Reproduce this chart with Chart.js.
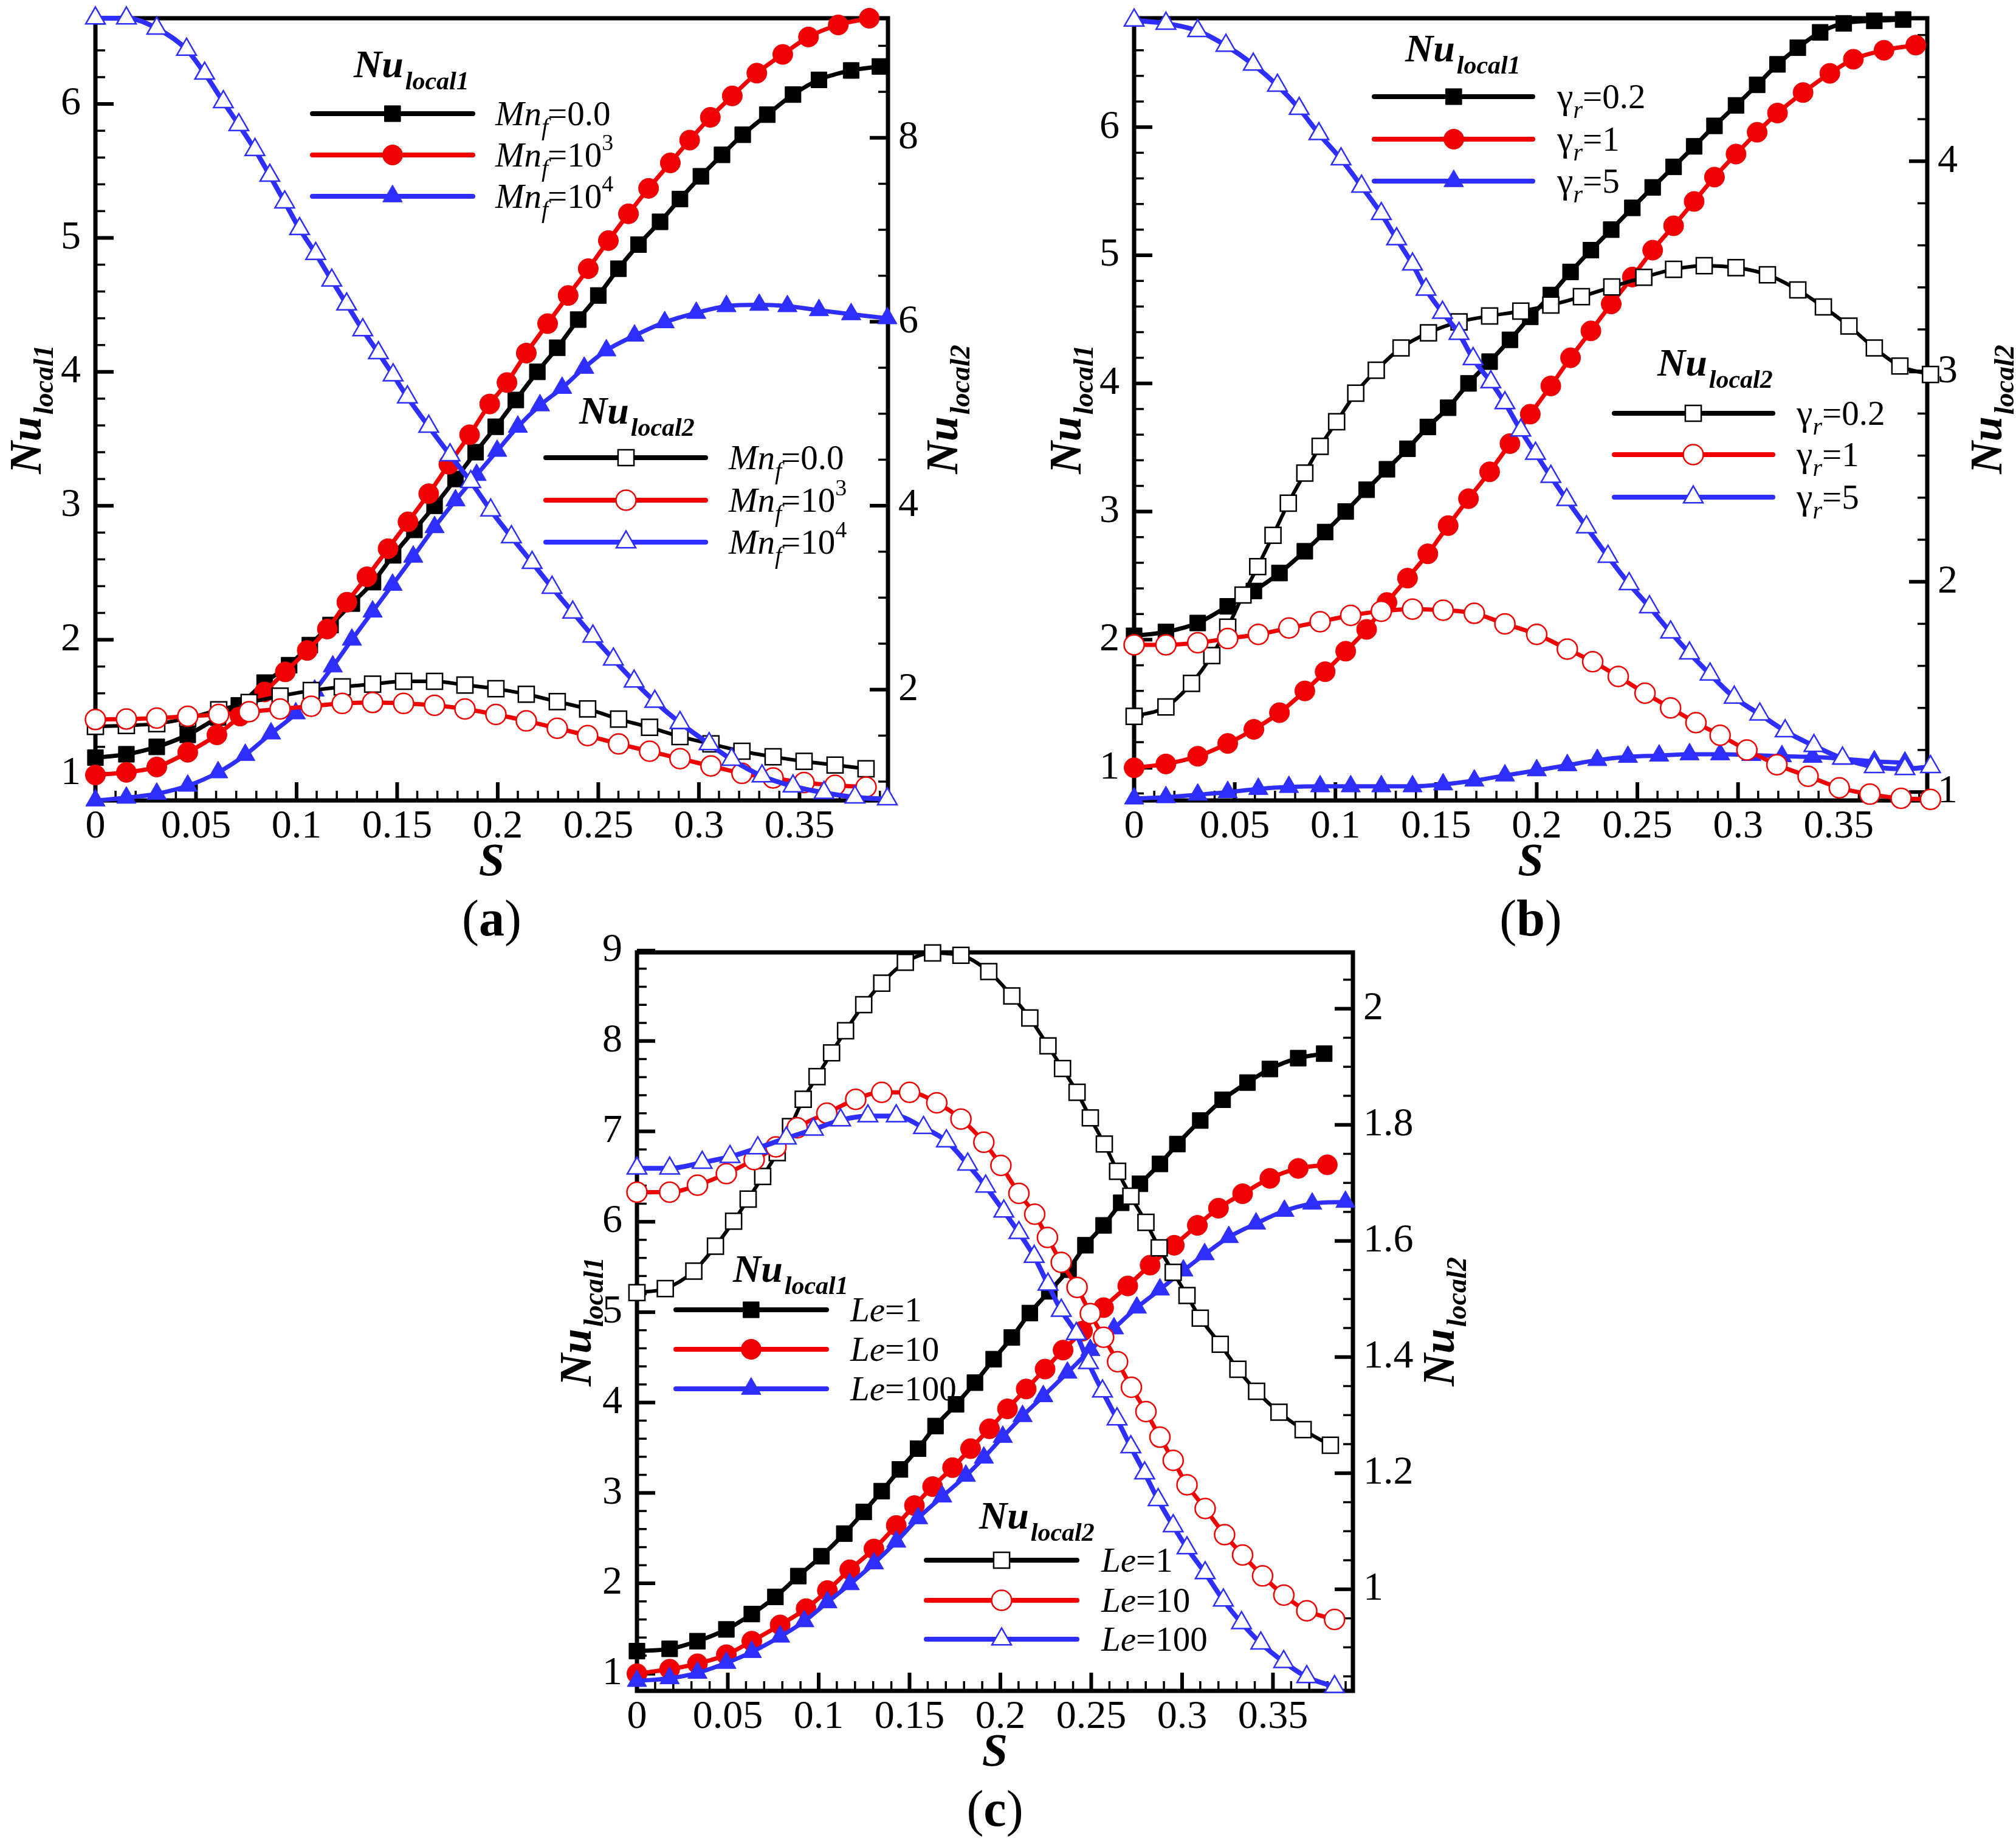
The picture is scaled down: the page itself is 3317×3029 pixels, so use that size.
<!DOCTYPE html>
<html>
<head>
<meta charset="utf-8">
<script src="https://cdn.jsdelivr.net/npm/chart.js@4.4.1/dist/chart.umd.min.js"></script>
<style>
html, body { margin: 0; padding: 0; background: #fff; width: 3317px; height: 3029px; overflow: hidden; }
canvas { position: absolute; }
</style>
</head>
<body>
<canvas id="chartA"></canvas>
<canvas id="chartB"></canvas>
<canvas id="chartC"></canvas>
<script>
// ---- tick labels ----
const sTicks = [0, 0.05, 0.1, 0.15, 0.2, 0.25, 0.3, 0.35];
const aLeftTicks = [1, 2, 3, 4, 5, 6];
const aRightTicks = [2, 4, 6, 8];
const bLeftTicks = [1, 2, 3, 4, 5, 6];
const bRightTicks = [1, 2, 3, 4];
const cLeftTicks = [1, 2, 3, 4, 5, 6, 7, 8, 9];
const cRightTicks = [1, 1.2, 1.4, 1.6, 1.8, 2];

// ---- panel (a): Mn_f ----
const a1BlackS = [0, 0.0154, 0.0305, 0.0459, 0.061, 0.0713, 0.0841, 0.0963, 0.1066, 0.1169, 0.1275, 0.138, 0.148, 0.1586, 0.1686, 0.179, 0.189, 0.199, 0.209, 0.2197, 0.2296, 0.24, 0.25, 0.26, 0.27, 0.2807, 0.2906, 0.301, 0.3115, 0.3218, 0.334, 0.3468, 0.3597, 0.3757, 0.39];
const a1BlackNu = [1.12, 1.145, 1.2, 1.29, 1.42, 1.51, 1.68, 1.81, 1.96, 2.11, 2.27, 2.43, 2.63, 2.82, 3.0, 3.2, 3.4, 3.59, 3.79, 4.0, 4.18, 4.39, 4.57, 4.77, 4.95, 5.12, 5.29, 5.46, 5.62, 5.77, 5.92, 6.07, 6.18, 6.25, 6.28];
const a1RedS = [0, 0.0154, 0.0305, 0.0459, 0.0604, 0.0719, 0.0841, 0.0944, 0.1053, 0.1153, 0.125, 0.135, 0.1455, 0.1554, 0.1657, 0.1757, 0.186, 0.196, 0.2046, 0.2142, 0.2248, 0.235, 0.245, 0.255, 0.265, 0.275, 0.2858, 0.2954, 0.3057, 0.3166, 0.3288, 0.3417, 0.3545, 0.3693, 0.3847];
const a1RedNu = [0.99, 1.01, 1.05, 1.16, 1.29, 1.43, 1.61, 1.76, 1.92, 2.08, 2.28, 2.47, 2.68, 2.88, 3.09, 3.31, 3.53, 3.76, 3.92, 4.14, 4.36, 4.57, 4.77, 4.98, 5.18, 5.37, 5.56, 5.73, 5.9, 6.06, 6.23, 6.37, 6.5, 6.59, 6.64];
const a1BlueS = [0, 0.0154, 0.0305, 0.0459, 0.061, 0.0745, 0.0873, 0.0996, 0.109, 0.118, 0.1275, 0.1378, 0.1477, 0.158, 0.1686, 0.179, 0.1895, 0.1997, 0.21, 0.221, 0.232, 0.243, 0.254, 0.268, 0.283, 0.2987, 0.3137, 0.33, 0.344, 0.3597, 0.3757, 0.3937];
const a1BlueNu = [0.8, 0.82, 0.85, 0.91, 1.01, 1.14, 1.3, 1.45, 1.62, 1.8, 2.0, 2.21, 2.41, 2.62, 2.84, 3.04, 3.23, 3.41, 3.59, 3.75, 3.88, 4.03, 4.16, 4.27, 4.37, 4.44, 4.49, 4.5, 4.49, 4.46, 4.43, 4.4];
const a2BlackS = [0, 0.0154, 0.0305, 0.0459, 0.0613, 0.0764, 0.0918, 0.1073, 0.1227, 0.1378, 0.1532, 0.1686, 0.1837, 0.1991, 0.2142, 0.2296, 0.2447, 0.2601, 0.2755, 0.2906, 0.306, 0.3214, 0.3369, 0.3523, 0.3677, 0.3831];
const a2BlackNu = [1.6, 1.61, 1.63, 1.69, 1.78, 1.86, 1.93, 1.99, 2.03, 2.06, 2.09, 2.09, 2.05, 2.01, 1.95, 1.87, 1.79, 1.68, 1.59, 1.49, 1.41, 1.33, 1.27, 1.22, 1.18, 1.14];
const a2RedS = [0, 0.0154, 0.0305, 0.0459, 0.0613, 0.0764, 0.0918, 0.1073, 0.1227, 0.1378, 0.1532, 0.1686, 0.1837, 0.1991, 0.2142, 0.2296, 0.2447, 0.2601, 0.2755, 0.2906, 0.306, 0.3214, 0.3369, 0.3523, 0.3677, 0.3831];
const a2RedNu = [1.675, 1.68, 1.69, 1.71, 1.73, 1.76, 1.79, 1.82, 1.85, 1.86, 1.85, 1.83, 1.79, 1.73, 1.66, 1.58, 1.5, 1.41, 1.33, 1.25, 1.17, 1.09, 1.04, 0.99, 0.96, 0.94];
const a2BlueS = [0, 0.0154, 0.0305, 0.0453, 0.0543, 0.0636, 0.0713, 0.0793, 0.0867, 0.0941, 0.1015, 0.1095, 0.1175, 0.1249, 0.1329, 0.1407, 0.148, 0.1551, 0.1657, 0.1763, 0.1866, 0.1965, 0.2068, 0.2171, 0.227, 0.2373, 0.2473, 0.2575, 0.2678, 0.2781, 0.2906, 0.3051, 0.3163, 0.3314, 0.3468, 0.3622, 0.3776, 0.3937];
const a2BlueNu = [9.3, 9.3, 9.19, 8.96, 8.7, 8.39, 8.14, 7.87, 7.59, 7.3, 7.01, 6.74, 6.45, 6.19, 5.91, 5.66, 5.42, 5.18, 4.86, 4.55, 4.26, 3.95, 3.66, 3.38, 3.11, 2.84, 2.58, 2.33, 2.09, 1.87, 1.64, 1.41, 1.24, 1.06, 0.95, 0.88, 0.83, 0.81];

// ---- panel (b): gamma_r ----
const b1BlackS = [0, 0.0158, 0.0316, 0.0465, 0.0595, 0.0722, 0.0848, 0.0949, 0.1051, 0.1155, 0.1256, 0.1358, 0.1459, 0.156, 0.1661, 0.1766, 0.1867, 0.1968, 0.207, 0.2168, 0.2269, 0.237, 0.2475, 0.2576, 0.268, 0.2782, 0.2883, 0.299, 0.3095, 0.3196, 0.3297, 0.3408, 0.3525, 0.3677, 0.382];
const b1BlackNu = [2.03, 2.06, 2.13, 2.26, 2.38, 2.52, 2.69, 2.84, 3.0, 3.17, 3.33, 3.49, 3.66, 3.81, 4.0, 4.17, 4.34, 4.52, 4.69, 4.87, 5.04, 5.2, 5.37, 5.53, 5.69, 5.85, 6.01, 6.17, 6.33, 6.49, 6.62, 6.74, 6.81, 6.83, 6.84];
const b1RedS = [0, 0.0158, 0.0316, 0.0465, 0.0595, 0.0722, 0.0848, 0.0949, 0.1051, 0.1155, 0.1256, 0.1358, 0.1459, 0.156, 0.1661, 0.1766, 0.1867, 0.1968, 0.207, 0.2168, 0.2269, 0.237, 0.2475, 0.2576, 0.268, 0.2782, 0.2883, 0.299, 0.3095, 0.3196, 0.3323, 0.3456, 0.3573, 0.3725, 0.3883];
const b1RedNu = [1.0, 1.03, 1.09, 1.19, 1.3, 1.43, 1.6, 1.75, 1.91, 2.08, 2.29, 2.48, 2.67, 2.89, 3.1, 3.31, 3.53, 3.76, 3.98, 4.2, 4.41, 4.62, 4.83, 5.04, 5.23, 5.42, 5.61, 5.79, 5.96, 6.11, 6.27, 6.42, 6.53, 6.6, 6.64];
const b1BlueS = [0, 0.0158, 0.0316, 0.0465, 0.0617, 0.0769, 0.0924, 0.1076, 0.1228, 0.1383, 0.1535, 0.169, 0.1842, 0.2, 0.2152, 0.2301, 0.2453, 0.2608, 0.2759, 0.2911, 0.3066, 0.3218, 0.337, 0.3519, 0.3677, 0.3829];
const b1BlueNu = [0.76, 0.77, 0.79, 0.81, 0.835, 0.85, 0.855, 0.855, 0.855, 0.855, 0.87, 0.9, 0.94, 0.98, 1.02, 1.06, 1.085, 1.095, 1.105, 1.105, 1.1, 1.09, 1.085, 1.07, 1.05, 1.04];
const b2BlackS = [0, 0.0158, 0.0285, 0.0386, 0.0465, 0.0541, 0.0614, 0.069, 0.0766, 0.0848, 0.0924, 0.1006, 0.1101, 0.1203, 0.1326, 0.1462, 0.1614, 0.1766, 0.1921, 0.207, 0.2222, 0.2373, 0.2532, 0.268, 0.2832, 0.299, 0.3146, 0.3297, 0.3424, 0.3551, 0.3677, 0.3804, 0.3956];
const b2BlackNu = [1.36, 1.405, 1.517, 1.649, 1.784, 1.937, 2.072, 2.221, 2.374, 2.517, 2.644, 2.761, 2.897, 3.006, 3.112, 3.184, 3.236, 3.264, 3.287, 3.316, 3.356, 3.402, 3.448, 3.486, 3.503, 3.494, 3.46, 3.388, 3.307, 3.216, 3.112, 3.026, 2.986];
const b2RedS = [0, 0.0158, 0.0316, 0.0465, 0.0617, 0.0769, 0.0924, 0.1076, 0.1228, 0.1383, 0.1535, 0.169, 0.1842, 0.2, 0.2152, 0.2278, 0.2405, 0.2538, 0.2665, 0.2791, 0.2911, 0.3044, 0.3193, 0.3348, 0.3503, 0.3655, 0.381, 0.3956];
const b2RedNu = [1.7, 1.7, 1.71, 1.73, 1.75, 1.78, 1.81, 1.84, 1.86, 1.87, 1.865, 1.85, 1.8, 1.75, 1.68, 1.62, 1.55, 1.47, 1.4, 1.33, 1.27, 1.2, 1.13, 1.075, 1.02, 0.99, 0.97, 0.965];
const b2BlueS = [0, 0.0158, 0.0316, 0.0456, 0.0592, 0.0712, 0.082, 0.0918, 0.1028, 0.113, 0.1228, 0.1304, 0.1383, 0.145, 0.1532, 0.1614, 0.1684, 0.1772, 0.1842, 0.1921, 0.1994, 0.207, 0.2149, 0.2247, 0.2354, 0.2459, 0.256, 0.2665, 0.2759, 0.2861, 0.2981, 0.3108, 0.3234, 0.3377, 0.3519, 0.3677, 0.3829, 0.3956];
const b2BlueNu = [4.67, 4.655, 4.62, 4.55, 4.46, 4.36, 4.25, 4.13, 4.01, 3.88, 3.75, 3.63, 3.51, 3.39, 3.28, 3.18, 3.06, 2.95, 2.85, 2.72, 2.61, 2.5, 2.39, 2.26, 2.12, 1.99, 1.88, 1.76, 1.66, 1.56, 1.45, 1.37, 1.29, 1.22, 1.16, 1.12, 1.11, 1.12];

// ---- panel (c): Le ----
const c1BlackS = [0, 0.018, 0.0333, 0.0492, 0.0632, 0.0762, 0.0888, 0.1015, 0.1141, 0.1248, 0.1347, 0.1447, 0.1547, 0.1643, 0.1756, 0.186, 0.1963, 0.2063, 0.2162, 0.2269, 0.2375, 0.2468, 0.2568, 0.2665, 0.2768, 0.2878, 0.2974, 0.31, 0.3223, 0.336, 0.3483, 0.3639, 0.3782];
const c1BlackNu = [1.25, 1.275, 1.36, 1.49, 1.66, 1.85, 2.08, 2.3, 2.55, 2.79, 3.02, 3.26, 3.49, 3.74, 3.98, 4.22, 4.48, 4.72, 4.99, 5.23, 5.47, 5.74, 5.96, 6.21, 6.42, 6.64, 6.86, 7.12, 7.35, 7.54, 7.69, 7.81, 7.86];
const c1RedS = [0, 0.018, 0.0333, 0.0492, 0.0632, 0.0788, 0.0931, 0.1048, 0.1171, 0.1304, 0.1427, 0.1527, 0.1627, 0.1737, 0.1836, 0.194, 0.2039, 0.2142, 0.2246, 0.2345, 0.2452, 0.2568, 0.2701, 0.2824, 0.2957, 0.3084, 0.32, 0.3333, 0.3483, 0.3639, 0.3799];
const c1RedNu = [1.0, 1.05, 1.11, 1.21, 1.36, 1.54, 1.72, 1.92, 2.15, 2.38, 2.64, 2.86, 3.07, 3.28, 3.49, 3.71, 3.93, 4.15, 4.37, 4.58, 4.79, 5.05, 5.29, 5.52, 5.74, 5.96, 6.15, 6.31, 6.48, 6.59, 6.63];
const c1BlueS = [0, 0.018, 0.0333, 0.0492, 0.0632, 0.0788, 0.0921, 0.1048, 0.1171, 0.1304, 0.1427, 0.1547, 0.168, 0.181, 0.1909, 0.2013, 0.2122, 0.2236, 0.2369, 0.2495, 0.2625, 0.2751, 0.2878, 0.3007, 0.3124, 0.3257, 0.3407, 0.3563, 0.3716, 0.3899];
const c1BlueNu = [0.92, 0.95, 1.01, 1.12, 1.24, 1.41, 1.58, 1.79, 1.99, 2.22, 2.46, 2.72, 2.96, 3.19, 3.39, 3.62, 3.85, 4.07, 4.33, 4.58, 4.82, 5.05, 5.25, 5.46, 5.64, 5.83, 5.98, 6.12, 6.2, 6.22];
const c2BlackS = [0, 0.0156, 0.0313, 0.0432, 0.0532, 0.0612, 0.0692, 0.0772, 0.0845, 0.0915, 0.0991, 0.1071, 0.1148, 0.1248, 0.1347, 0.1477, 0.1627, 0.1783, 0.1936, 0.2063, 0.2162, 0.2262, 0.2342, 0.2422, 0.2495, 0.2572, 0.2645, 0.2718, 0.2801, 0.2874, 0.2951, 0.3027, 0.31, 0.321, 0.3307, 0.341, 0.3533, 0.3666, 0.3816];
const c2BlackNu = [1.511, 1.518, 1.548, 1.591, 1.634, 1.672, 1.711, 1.752, 1.797, 1.844, 1.883, 1.924, 1.962, 2.007, 2.044, 2.08, 2.096, 2.092, 2.064, 2.022, 1.984, 1.936, 1.897, 1.856, 1.812, 1.767, 1.72, 1.677, 1.632, 1.588, 1.546, 1.506, 1.467, 1.422, 1.379, 1.341, 1.305, 1.275, 1.248];
const c2RedS = [0, 0.018, 0.0333, 0.0492, 0.0645, 0.0765, 0.0882, 0.1045, 0.1204, 0.1347, 0.15, 0.165, 0.1783, 0.1909, 0.2003, 0.2102, 0.2189, 0.2259, 0.2335, 0.2422, 0.2495, 0.2568, 0.2645, 0.2721, 0.2801, 0.2878, 0.2951, 0.3027, 0.3127, 0.3234, 0.3333, 0.3443, 0.356, 0.3686, 0.3839];
const c2RedNu = [1.684, 1.684, 1.696, 1.716, 1.74, 1.762, 1.795, 1.82, 1.844, 1.856, 1.856, 1.838, 1.81, 1.77, 1.73, 1.682, 1.646, 1.606, 1.563, 1.52, 1.475, 1.434, 1.392, 1.348, 1.306, 1.262, 1.222, 1.18, 1.139, 1.094, 1.059, 1.023, 0.99, 0.963, 0.948];
const c2BlueS = [0, 0.018, 0.0359, 0.0512, 0.0665, 0.0822, 0.0971, 0.1121, 0.1271, 0.1427, 0.1577, 0.1703, 0.182, 0.1919, 0.2019, 0.2102, 0.2186, 0.2262, 0.2335, 0.2418, 0.2485, 0.2562, 0.2642, 0.2718, 0.2794, 0.2868, 0.2951, 0.3027, 0.3127, 0.3227, 0.3327, 0.3433, 0.3559, 0.3686, 0.3839];
const c2BlueNu = [1.725, 1.725, 1.735, 1.745, 1.76, 1.777, 1.792, 1.808, 1.815, 1.815, 1.795, 1.772, 1.732, 1.694, 1.651, 1.614, 1.573, 1.525, 1.48, 1.44, 1.39, 1.341, 1.293, 1.245, 1.2, 1.154, 1.109, 1.071, 1.028, 0.981, 0.942, 0.907, 0.875, 0.849, 0.832];

// ---- look ----
const SERIF = '"Liberation Serif", "Times New Roman", serif';
const BLACK = '#000000';
const RED = '#f00000';
const BLUE = '#2e2eff';
const LW = 220, RW = 260, TP = 70, BH = 300;

const it = sz => `italic ${sz}px ${SERIF}`;
const rm = sz => `${sz}px ${SERIF}`;
const bi = sz => `bold italic ${sz}px ${SERIF}`;
const bd = sz => `bold ${sz}px ${SERIF}`;

function mnLabel(val, sup){
    const p = [{t: 'Mn', f: it(57)}, {t: 'f', f: it(40), dy: 16}, {t: '=' + val, f: rm(57), kx: -1}];
    if(sup) p.push({t: sup, f: rm(38), dy: -27});
    return p;
}
function gammaLabel(val){
    return [{t: 'γ', f: rm(60)}, {t: 'r', f: it(40), dy: 16}, {t: '=' + val, f: rm(57)}];
}
function leLabel(val){
    return [{t: 'Le', f: it(57)}, {t: '=' + val, f: rm(57)}];
}
function nuParts(idx, big, small){
    return [{t: 'Nu', f: bi(big)}, {t: 'local' + idx, f: bi(small), dy: 20, kx: 3}];
}

function richWidth(ctx, parts){
    let w = 0;
    parts.forEach(p => { ctx.font = p.f; w += ctx.measureText(p.t).width + (p.kx || 0); });
    return w;
}
function drawRich(ctx, parts, x, y, center){
    let cx = center ? x - richWidth(ctx, parts) / 2 : x;
    ctx.textAlign = 'left';
    ctx.textBaseline = 'alphabetic';
    parts.forEach(p => {
        ctx.font = p.f;
        cx += (p.kx || 0);
        ctx.fillText(p.t, cx, y + (p.dy || 0));
        cx += ctx.measureText(p.t).width;
    });
}

const RADIUS = {rect: 18.5, circle: 16.5, triangle: 18.5};

function series(xs, ys, color, shape, filled, axis, lw){
    return {
        data: xs.map((s, i) => ({x: s, y: ys[i]})),
        yAxisID: axis,
        borderColor: color,
        borderWidth: lw,
        pointStyle: shape,
        pointRadius: RADIUS[shape],
        pointBackgroundColor: filled ? color : '#ffffff',
        pointBorderColor: color,
        pointBorderWidth: filled ? 1 : 2.5,
        cubicInterpolationMode: 'monotone',
        clip: false,
        fill: false
    };
}

function stepValues(min, max, step){
    const out = [];
    for(let k = Math.ceil(min / step - 1e-9); k * step <= max + 1e-9; k++){
        out.push(+(k * step).toFixed(6));
    }
    return out;
}

const fmt = v => String(+(+v).toFixed(3));

const panels = [
    {
        id: 'chartA', tag: 'a',
        area: {left: 157, top: 30, right: 1461, bottom: 1317},
        xMax: 0.394, yRange: [0.80, 6.64], y2Range: [0.795, 9.30],
        yTicks: aLeftTicks, y2Ticks: aRightTicks, yMinor: 0.2, y2Minor: 0.5,
        titleL: 90, titleR: 114,
        sets: [
            series(a1BlackS, a1BlackNu, BLACK, 'rect', true, 'y', 7),
            series(a1RedS, a1RedNu, RED, 'circle', true, 'y', 7),
            series(a1BlueS, a1BlueNu, BLUE, 'triangle', true, 'y', 7),
            series(a2BlackS, a2BlackNu, BLACK, 'rect', false, 'y2', 6),
            series(a2RedS, a2RedNu, RED, 'circle', false, 'y2', 7),
            series(a2BlueS, a2BlueNu, BLUE, 'triangle', false, 'y2', 8)
        ],
        legends: [
            {head: 1, hx: 425, hy: 97, x0: 357, x1: 621, mx: 489, tx: 658, rows: [157, 225, 293], sets: [0, 1, 2],
             labels: [mnLabel('0.0'), mnLabel('10', '3'), mnLabel('10', '4')]},
            {head: 2, hx: 796, hy: 667, x0: 741, x1: 1004, mx: 873, tx: 1042, rows: [723, 793, 862], sets: [3, 4, 5],
             labels: [mnLabel('0.0'), mnLabel('10', '3'), mnLabel('10', '4')]}
        ]
    },
    {
        id: 'chartB', tag: 'b',
        area: {left: 1866, top: 30, right: 3171, bottom: 1317},
        xMax: 0.394, yRange: [0.745, 6.85], y2Range: [0.96, 4.68],
        yTicks: bLeftTicks, y2Ticks: bRightTicks, yMinor: 0.2, y2Minor: 0.2,
        titleL: 88, titleR: 122,
        sets: [
            series(b1BlackS, b1BlackNu, BLACK, 'rect', true, 'y', 7),
            series(b1RedS, b1RedNu, RED, 'circle', true, 'y', 7),
            series(b1BlueS, b1BlueNu, BLUE, 'triangle', true, 'y', 7),
            series(b2BlackS, b2BlackNu, BLACK, 'rect', false, 'y2', 6),
            series(b2RedS, b2RedNu, RED, 'circle', false, 'y2', 7),
            series(b2BlueS, b2BlueNu, BLUE, 'triangle', false, 'y2', 8)
        ],
        legends: [
            {head: 1, hx: 446, hy: 71, x0: 395, x1: 656, mx: 526, tx: 696, rows: [129, 199, 268], sets: [0, 1, 2],
             labels: [gammaLabel('0.2'), gammaLabel('1'), gammaLabel('5')]},
            {head: 2, hx: 861, hy: 588, x0: 790, x1: 1051, mx: 920, tx: 1090, rows: [650, 718, 788], sets: [3, 4, 5],
             labels: [gammaLabel('0.2'), gammaLabel('1'), gammaLabel('5')]}
        ]
    },
    {
        id: 'chartC', tag: 'c',
        area: {left: 1048, top: 1567, right: 2226, bottom: 2782},
        xMax: 0.394, yRange: [0.81, 8.98], y2Range: [0.825, 2.097],
        yTicks: cLeftTicks, y2Ticks: cRightTicks, yMinor: 0.2, y2Minor: 0.05,
        titleL: 76, titleR: 166,
        sets: [
            series(c1BlackS, c1BlackNu, BLACK, 'rect', true, 'y', 7),
            series(c1RedS, c1RedNu, RED, 'circle', true, 'y', 7),
            series(c1BlueS, c1BlueNu, BLUE, 'triangle', true, 'y', 7),
            series(c2BlackS, c2BlackNu, BLACK, 'rect', false, 'y2', 6),
            series(c2RedS, c2RedNu, RED, 'circle', false, 'y2', 7),
            series(c2BlueS, c2BlueNu, BLUE, 'triangle', false, 'y2', 8)
        ],
        legends: [
            {head: 1, hx: 158, hy: 542, x0: 64, x1: 312, mx: 188, tx: 351, rows: [588, 653, 718], sets: [0, 1, 2],
             labels: [leLabel('1'), leLabel('10'), leLabel('100')]},
            {head: 2, hx: 563, hy: 948, x0: 476, x1: 724, mx: 600, tx: 764, rows: [1000, 1066, 1130], sets: [3, 4, 5],
             labels: [leLabel('1'), leLabel('10'), leLabel('100')]}
        ]
    }
];

function makePaper(p){
    return {
        id: 'paper',
        beforeDatasetsDraw(chart){
            const ctx = chart.ctx, a = chart.chartArea, sc = chart.scales;
            ctx.save();
            ctx.strokeStyle = '#000';
            ctx.lineCap = 'butt';
            // inward ticks
            const tick = (scale, values, len, w, side) => {
                ctx.lineWidth = w;
                values.forEach(v => {
                    const q = scale.getPixelForValue(v);
                    ctx.beginPath();
                    if(side === 'b'){ ctx.moveTo(q, a.bottom); ctx.lineTo(q, a.bottom - len); }
                    if(side === 'l'){ ctx.moveTo(a.left, q); ctx.lineTo(a.left + len, q); }
                    if(side === 'r'){ ctx.moveTo(a.right, q); ctx.lineTo(a.right - len, q); }
                    ctx.stroke();
                });
            };
            tick(sc.x, stepValues(0, p.xMax, 0.01), 16, 3.5, 'b');
            tick(sc.x, sTicks, 30, 6, 'b');
            tick(sc.y, stepValues(p.yRange[0], p.yRange[1], p.yMinor), 16, 3.5, 'l');
            tick(sc.y, p.yTicks, 30, 6, 'l');
            tick(sc.y2, stepValues(p.y2Range[0], p.y2Range[1], p.y2Minor), 16, 3.5, 'r');
            tick(sc.y2, p.y2Ticks, 30, 6, 'r');
            // frame
            ctx.lineWidth = 7;
            ctx.strokeRect(a.left, a.top, a.right - a.left, a.bottom - a.top);
            ctx.restore();
        },
        afterDatasetsDraw(chart){
            const ctx = chart.ctx, a = chart.chartArea;
            ctx.save();
            ctx.fillStyle = '#000';
            // legends
            p.legends.forEach(lg => {
                drawRich(ctx, nuParts(lg.head, 64, 42), a.left + lg.hx, a.top + lg.hy, false);
                lg.sets.forEach((si, k) => {
                    const ds = chart.data.datasets[si];
                    const y = a.top + lg.rows[k];
                    ctx.strokeStyle = ds.borderColor;
                    ctx.lineWidth = 8;
                    ctx.lineCap = 'round';
                    ctx.beginPath();
                    ctx.moveTo(a.left + lg.x0, y);
                    ctx.lineTo(a.left + lg.x1, y);
                    ctx.stroke();
                    ctx.fillStyle = ds.pointBackgroundColor;
                    ctx.strokeStyle = ds.pointBorderColor;
                    ctx.lineWidth = ds.pointBorderWidth;
                    Chart.helpers.drawPoint(ctx, {pointStyle: ds.pointStyle, radius: ds.pointRadius, rotation: 0, borderWidth: ds.pointBorderWidth}, a.left + lg.mx, y);
                    ctx.fillStyle = '#000';
                    drawRich(ctx, lg.labels[k], a.left + lg.tx, y + 19, false);
                });
            });
            // axis titles
            const cy = (a.top + a.bottom) / 2;
            [[a.left - p.titleL, 1], [a.right + p.titleR, 2]].forEach(([bx, idx]) => {
                ctx.save();
                ctx.translate(bx, cy);
                ctx.rotate(-Math.PI / 2);
                drawRich(ctx, nuParts(idx, 74, 46), 0, 0, true);
                ctx.restore();
            });
            const cx = (a.left + a.right) / 2;
            drawRich(ctx, [{t: 'S', f: bi(76)}], cx, a.bottom + 123, true);
            drawRich(ctx, [{t: '(', f: rm(84)}, {t: p.tag, f: bd(84)}, {t: ')', f: rm(84)}], cx, a.bottom + 222, true);
            ctx.restore();
        }
    };
}

function buildPanel(p){
    const cv = document.getElementById(p.id);
    const w = (p.area.right - p.area.left) + LW + RW;
    const h = (p.area.bottom - p.area.top) + TP + BH;
    cv.width = w;
    cv.height = h;
    cv.style.width = w + 'px';
    cv.style.height = h + 'px';
    cv.style.left = (p.area.left - LW) + 'px';
    cv.style.top = (p.area.top - TP) + 'px';

    const tickFont = {family: SERIF, size: 66};

    p.sets.forEach((ds, i) => { ds.order = p.sets.length - i; });

    new Chart(cv, {
        type: 'line',
        data: {datasets: p.sets},
        options: {
            responsive: false,
            animation: false,
            devicePixelRatio: 1,
            events: [],
            layout: {padding: {top: TP, left: 0, right: 0, bottom: 0}},
            plugins: {legend: {display: false}, tooltip: {enabled: false}},
            scales: {
                x: {
                    type: 'linear', position: 'bottom', min: 0, max: p.xMax,
                    afterBuildTicks: s => { s.ticks = sTicks.map(v => ({value: v})); },
                    afterFit: s => { s.height = BH; },
                    grid: {display: false, drawTicks: false},
                    border: {display: false},
                    ticks: {font: tickFont, color: '#000', padding: 4, maxRotation: 0, autoSkip: false, callback: v => fmt(v)}
                },
                y: {
                    type: 'linear', position: 'left', min: p.yRange[0], max: p.yRange[1],
                    afterBuildTicks: s => { s.ticks = p.yTicks.map(v => ({value: v})); },
                    afterFit: s => { s.width = LW; },
                    grid: {display: false, drawTicks: false},
                    border: {display: false},
                    ticks: {font: tickFont, color: '#000', padding: 24, autoSkip: false, callback: v => fmt(v)}
                },
                y2: {
                    type: 'linear', position: 'right', min: p.y2Range[0], max: p.y2Range[1],
                    afterBuildTicks: s => { s.ticks = p.y2Ticks.map(v => ({value: v})); },
                    afterFit: s => { s.width = RW; },
                    grid: {display: false, drawTicks: false},
                    border: {display: false},
                    ticks: {font: tickFont, color: '#000', padding: 17, autoSkip: false, callback: v => fmt(v)}
                }
            }
        },
        plugins: [makePaper(p)]
    });
}

panels.forEach(buildPanel);
</script>
</body>
</html>
